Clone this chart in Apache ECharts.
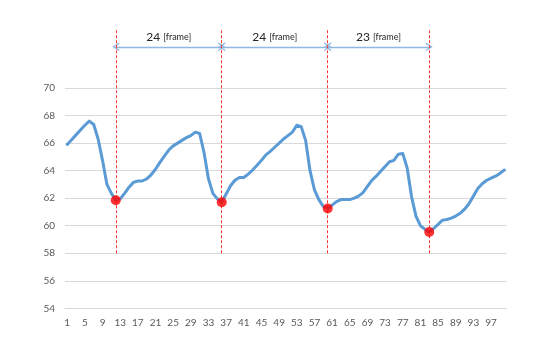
<!DOCTYPE html>
<html><head><meta charset="utf-8">
<script src="https://cdn.jsdelivr.net/npm/echarts@6/dist/echarts.min.js"></script>
<style>html,body{margin:0;padding:0;background:#fff}#c{width:549px;height:350px}</style>
</head><body><div id="c"></div>
<script>
// frame numbers (category labels)
const frames = [];
for (let i = 1; i <= 100; i++) frames.push(String(i));

// measured series values, one per frame
const values = [
  65.9, 66.25, 66.6, 66.95, 67.3, 67.6, 67.35, 66.3, 64.75, 63.0,
  62.35, 61.85, 61.95, 62.35, 62.8, 63.15, 63.25, 63.25, 63.4, 63.7,
  64.1, 64.6, 65.05, 65.5, 65.8, 66.0, 66.2, 66.4, 66.55, 66.8,
  66.7, 65.3, 63.4, 62.35, 61.95, 61.7, 62.3, 62.9, 63.3, 63.5,
  63.5, 63.75, 64.05, 64.4, 64.75, 65.15, 65.4, 65.7, 66.0, 66.3,
  66.55, 66.8, 67.3, 67.2, 66.2, 64.0, 62.6, 61.9, 61.4, 61.25,
  61.5, 61.75, 61.9, 61.9, 61.9, 62.0, 62.15, 62.4, 62.85, 63.3,
  63.6, 63.95, 64.3, 64.65, 64.75, 65.2, 65.25, 64.2, 62.1, 60.7,
  60.0, 59.75, 59.55, 59.8, 60.1, 60.4, 60.45, 60.55, 60.7, 60.9,
  61.2, 61.6, 62.15, 62.7, 63.05, 63.3, 63.45, 63.6, 63.8, 64.05
];

// minima highlighted with red dots
const minFrames = ['12', '36', '60', '83'];
const minValues = [61.85, 61.7, 61.25, 59.55];

// period annotations between minima
const spanCounts = ['24', '24', '23'];
const spanUnit = '[frame]';

// y axis ticks shown
const yMin = 54, yMaxShown = 70, yStep = 2;
// annotation levels (in value units)
const guideBottom = 58, guideTop = 74.2, arrowLevel = 73, yMaxAxis = 76;

const gridColor = '#d9d9d9';
const splitColors = [];
for (let v = yMin; v <= yMaxAxis; v += yStep) splitColors.push(v <= yMaxShown ? gridColor : 'rgba(0,0,0,0)');

const chevron = 'path://M0,10 L5,0 L10,10 L8.2,10 L5,3.6 L1.8,10 Z';

const chart = echarts.init(document.getElementById('c'));
chart.setOption({
  animation: false,
  backgroundColor: '#fff',
  textStyle: { fontFamily: 'Lato, "Open Sans", sans-serif' },
  grid: { left: 65, right: 42.5, top: 5.5, bottom: 41.7, containLabel: false },
  xAxis: {
    type: 'category',
    data: frames,
    boundaryGap: true,
    axisLine: { show: true, lineStyle: { color: gridColor, width: 1 } },
    axisTick: { show: false },
    axisLabel: { interval: 3, color: '#595959', fontSize: 10, margin: 9 },
    splitLine: { show: false }
  },
  yAxis: {
    type: 'value',
    min: yMin, max: yMaxAxis, interval: yStep,
    axisLine: { show: false },
    axisTick: { show: false },
    axisLabel: {
      color: '#595959', fontSize: 10, margin: 10,
      formatter: v => (v <= yMaxShown ? String(v) : '')
    },
    splitLine: { show: true, lineStyle: { color: splitColors, width: 1 } }
  },
  series: [
    {
      type: 'line',
      data: values,
      symbol: 'none',
      smooth: false,
      clip: false,
      lineStyle: { color: '#5b9bd5', width: 3, join: 'round', cap: 'round' },
      z: 3,
      markLine: {
        silent: true,
        symbol: [chevron, chevron],
        symbolSize: [9, 7],
        lineStyle: { color: '#8fb9e3', width: 1.3, type: 'solid' },
        label: {
          show: true,
          position: 'insideMiddleTop',
          distance: 4,
          formatter: p => '{a|' + p.name + '} {b|' + spanUnit + '}',
          rich: {
            a: { fontSize: 12, color: '#262626', fontFamily: 'Lato, sans-serif' },
            b: { fontSize: 9, color: '#262626', fontFamily: 'Lato, sans-serif' }
          }
        },
        emphasis: { disabled: true },
        data: spanCounts.map((n, i) => [
          { name: n, coord: [minFrames[i], arrowLevel] },
          { coord: [minFrames[i + 1], arrowLevel] }
        ])
      }
    },
    {
      type: 'scatter',
      data: minFrames.map((f, i) => [f, minValues[i]]),
      symbol: 'circle',
      symbolSize: 10,
      clip: false,
      itemStyle: { color: '#ff0000' },
      z: 5,
      markLine: {
        silent: true,
        symbol: ['none', 'none'],
        lineStyle: { color: '#ff3333', width: 1, type: [3, 2] },
        label: { show: false },
        emphasis: { disabled: true },
        data: minFrames.map(f => [
          { coord: [f, guideBottom] },
          { coord: [f, guideTop] }
        ])
      }
    }
  ]
});
</script>
</body></html>
